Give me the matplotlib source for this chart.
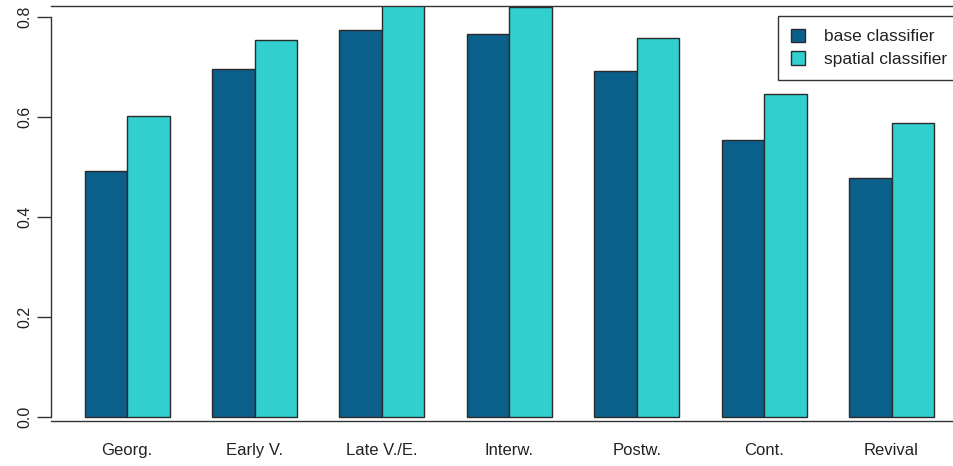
import numpy as np
import matplotlib
matplotlib.use("Agg")
import matplotlib.pyplot as plt
from matplotlib.patches import Patch

plt.rcParams['font.family'] = ['Liberation Sans', 'DejaVu Sans']

# Data
periods = ["Georg.", "Early V.", "Late V./E.", "Interw.", "Postw.", "Cont.", "Revival"]
base = [0.491, 0.695, 0.773, 0.765, 0.692, 0.554, 0.478]
spatial = [0.602, 0.753, 0.830, 0.819, 0.757, 0.645, 0.588]
series_names = ["base classifier", "spatial classifier"]
yticks = [0.0, 0.2, 0.4, 0.6, 0.8]

c_base = "#0b5f8b"
c_spat = "#31d0cf"
edge = "#2a2a2a"

W, H = 954, 466
fig = plt.figure(figsize=(W / 100, H / 100), dpi=100)
# plot box: left 50.7px, top 5.7px, bottom 421px, right edge beyond the picture (~968px)
ax = fig.add_axes([50.7 / W, (H - 421) / H, (968 - 50.7) / W, (421 - 5.7) / H])

# R-style barplot positions: bar width 1, one bar gap between groups
starts = 1 + 3 * np.arange(len(periods))
ax.bar(starts + 0.5, base, width=1, color=c_base, edgecolor=edge, linewidth=1)
ax.bar(starts + 1.5, spatial, width=1, color=c_spat, edgecolor=edge, linewidth=1)

ax.set_xlim(0.2, 21.8)
ax.set_ylim(-0.0086, 0.822)

ax.set_xticks(starts + 1)
ax.set_xticklabels(periods, fontsize=12, color="#222222")
ax.tick_params(axis="x", length=0, pad=16)

ax.set_yticks(yticks)
ax.set_yticklabels(["%.1f" % v for v in yticks], rotation=90, va="center",
                   fontsize=11.5, color="#222222")
ax.tick_params(axis="y", length=10, width=1, color="#333333", pad=3)
ax.spines["left"].set_bounds(0.0, 0.8)

for s in ax.spines.values():
    s.set_color("#333333")
    s.set_linewidth(1)

handles = [Patch(facecolor=c_base, edgecolor=edge, linewidth=1),
           Patch(facecolor=c_spat, edgecolor=edge, linewidth=1)]
leg = ax.legend(handles, series_names, loc="upper left",
                bbox_to_anchor=(778 / W, 1 - 15.7 / H), bbox_transform=fig.transFigure,
                fontsize=12.5, frameon=True, fancybox=False, framealpha=1,
                edgecolor="#333333", borderpad=0.75, handlelength=0.8,
                handleheight=0.8, handletextpad=1.1, labelspacing=0.4,
                borderaxespad=0)
leg.get_frame().set_linewidth(1)
for t in leg.get_texts():
    t.set_color("#222222")

fig.savefig("out.png", dpi=100)
